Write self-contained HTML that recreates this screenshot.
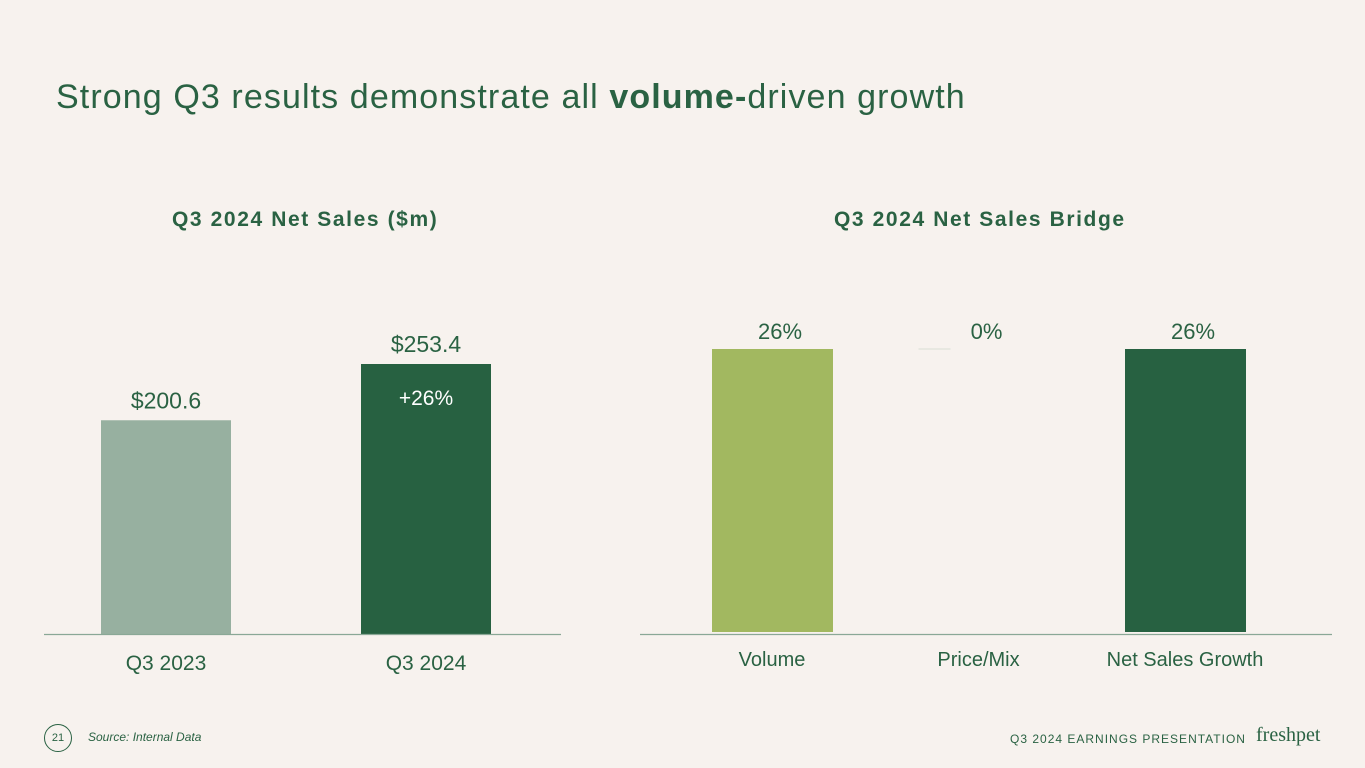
<!DOCTYPE html>
<html><head><meta charset="utf-8"><style>
body{margin:0;width:1365px;height:768px;background:#f7f2ee;font-family:"Liberation Sans",sans-serif;overflow:hidden;position:relative}
.t{position:absolute;white-space:nowrap}
</style></head><body>
<div class="t" style="left:56px;top:78px;font-size:34px;color:#2a6243;letter-spacing:1.1px">Strong Q3 results demonstrate all <b>volume-</b>driven growth</div>
<div class="t" style="left:172px;top:208px;font-size:21px;color:#2a6243;font-weight:bold;letter-spacing:1.6px">Q3 2024 Net Sales ($m)</div>
<div class="t" style="left:834px;top:208px;font-size:21px;color:#2a6243;font-weight:bold;letter-spacing:1.6px">Q3 2024 Net Sales Bridge</div>
<svg id="c" width="1365" height="768" style="position:absolute;left:0;top:0"></svg>
<div class="t" style="left:44px;top:724px;width:26px;height:26px;border:1.5px solid #2a6243;border-radius:50%;font-size:11px;color:#2a6243;text-align:center;line-height:26px">21</div>
<div class="t" style="left:88px;top:730px;font-size:12px;font-style:italic;color:#2a6243">Source: Internal Data</div>
<div class="t" style="left:1010px;top:732px;font-size:12px;color:#2a6243;letter-spacing:1px">Q3 2024 EARNINGS PRESENTATION</div>
<div class="t" style="left:1256px;top:724px;font-size:20px;color:#2a6243;font-family:'Liberation Serif',serif">freshpet</div>
<script>
const leftCats=["Q3 2023","Q3 2024"];
const leftVals=[200.6,253.4];
const leftLabels=["$200.6","$253.4"];
const bridgeCats=["Volume","Price/Mix","Net Sales Growth"];
const bridgeVals=[26,0,26];
const bridgeBase=[0,26,0];
const bridgeLabels=["26%","0%","26%"];
const svg=document.getElementById('c');const NS="http://www.w3.org/2000/svg";
function mk(t,a,txt){const e=document.createElementNS(NS,t);for(const k in a)e.setAttribute(k,a[k]);if(txt!==undefined)e.textContent=txt;svg.appendChild(e);return e;}
const ly=v=>634-v*(270/253.4);
const lx=i=>101+i*260;
leftVals.forEach((v,i)=>{
 const r=mk('rect',{x:lx(i),y:ly(v),width:130,height:634-ly(v),fill:i?'#276141':'#97b0a0'});
 
 
 const l=mk('text',{x:lx(i)+65,y:ly(v)-12,'text-anchor':'middle','font-size':23,fill:'#2a6243','font-family':'Liberation Sans'},leftLabels[i]);
 
 
 const c=mk('text',{x:lx(i)+65,y:670,'text-anchor':'middle','font-size':21,fill:'#2a6243','font-family':'Liberation Sans'},leftCats[i]);
 
 
});
const g=mk('text',{x:lx(1)+65,y:405,'text-anchor':'middle','font-size':21,fill:'#fff','font-family':'Liberation Sans'},'+'+Math.round((leftVals[1]/leftVals[0]-1)*100)+'%');


const la=mk('line',{x1:44,x2:561,y1:634.5,y2:634.5,stroke:'#8aa896','stroke-width':1.2});


const ry=v=>632-v*(283/26);
const rx=i=>712+i*206.5;
const cols=['#a2b860','#2a6243','#276141'];
bridgeVals.forEach((v,i)=>{
 const top=ry(bridgeBase[i]+v),bot=ry(bridgeBase[i]);
 if(v===0){const z=mk('line',{x1:rx(i),x2:rx(i)+32,y1:bot,y2:bot,stroke:'#d8ddd4','stroke-width':1});}
 else{const r=mk('rect',{x:rx(i),y:top,width:121,height:bot-top,fill:cols[i]});
 
 }
 const l=mk('text',{x:rx(i)+68,y:top-10,'text-anchor':'middle','font-size':22,fill:'#2a6243','font-family':'Liberation Sans'},bridgeLabels[i]);
 
 
 const c=mk('text',{x:rx(i)+60,y:666,'text-anchor':'middle','font-size':20,fill:'#2a6243','font-family':'Liberation Sans'},bridgeCats[i]);
 
 
});
const ra=mk('line',{x1:640,x2:1332,y1:634.5,y2:634.5,stroke:'#8aa896','stroke-width':1.2});


</script>
</body></html>
